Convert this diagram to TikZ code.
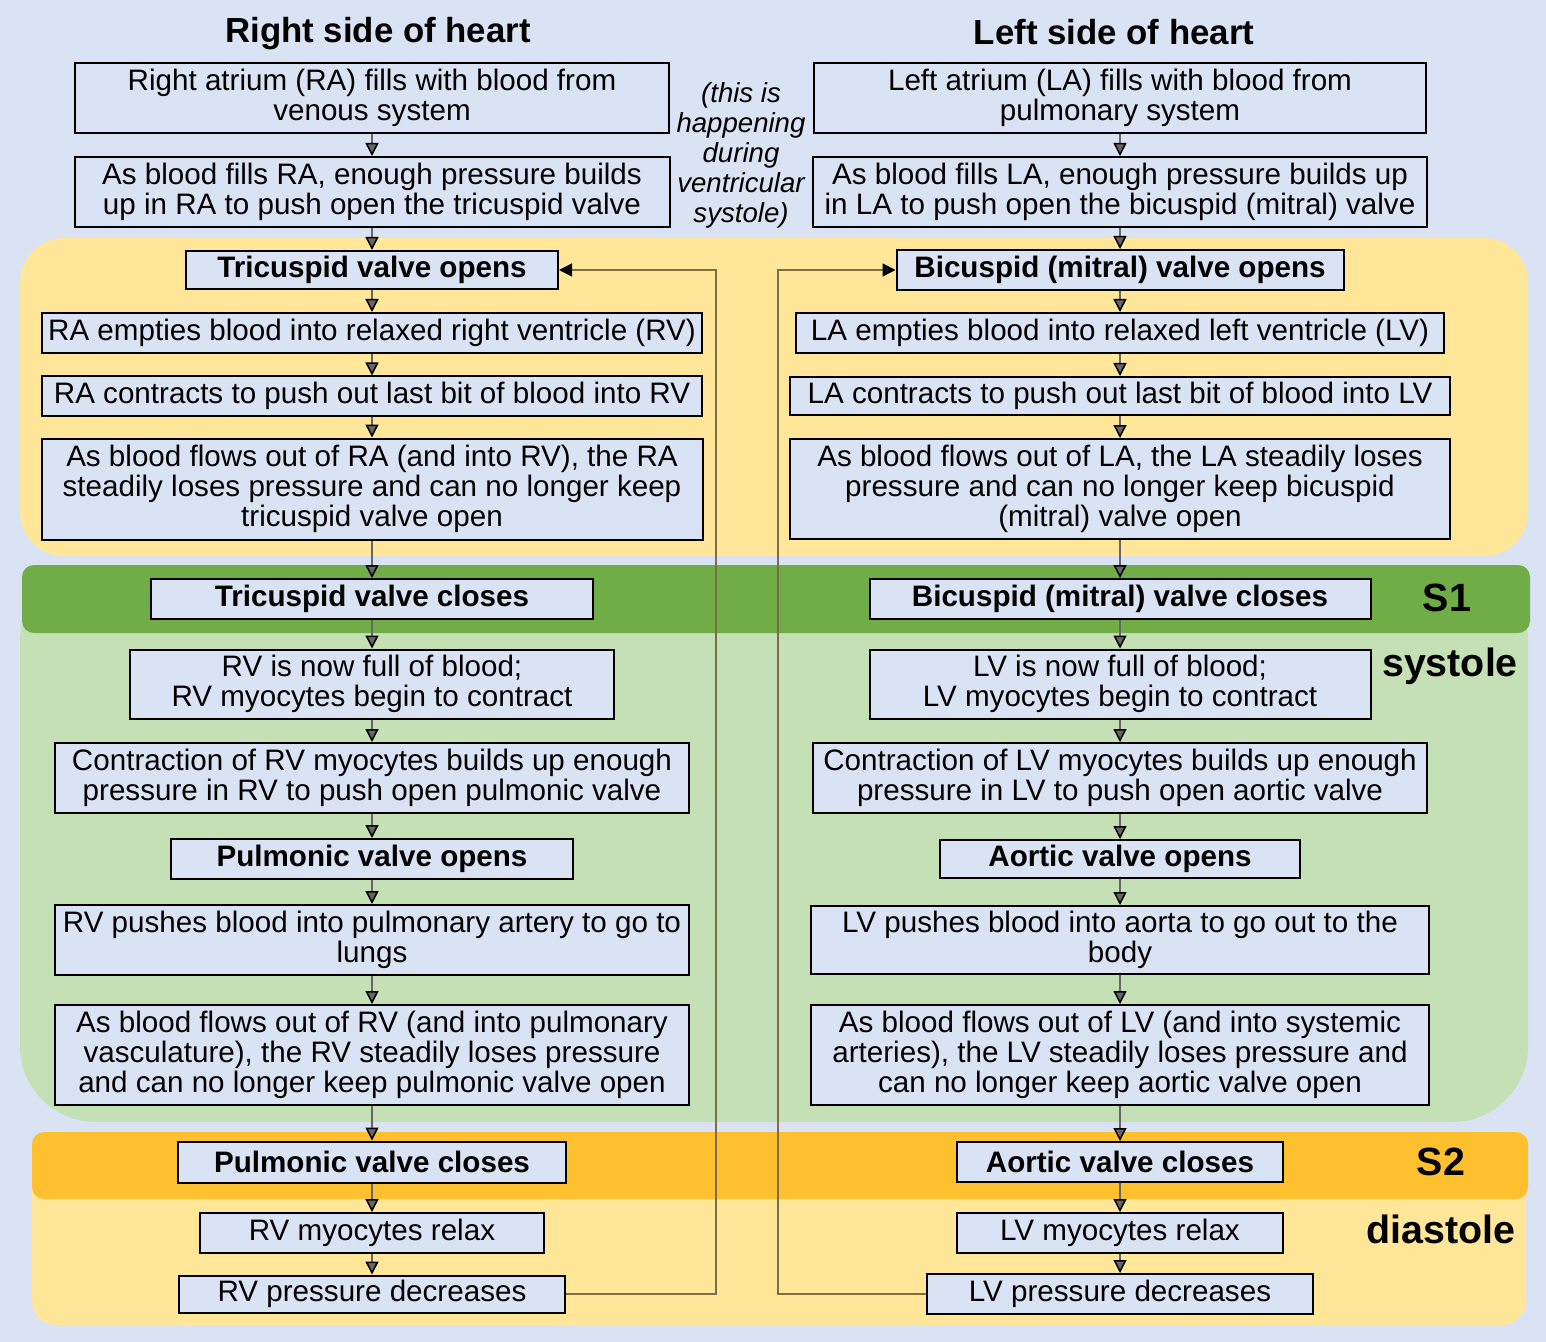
\documentclass[tikz,border=0pt]{standalone}
\usepackage{fontspec}
\setmainfont{Liberation Sans}
\usetikzlibrary{positioning,arrows.meta}

\definecolor{bgblue}{HTML}{DAE3F3}
\definecolor{diayellow}{HTML}{FFE699}
\definecolor{sysgreen}{HTML}{C5E0B4}
\definecolor{sonegreen}{HTML}{70AD47}
\definecolor{stwoorange}{HTML}{FFC02F}
\definecolor{backcol}{HTML}{7D6C48}

\newcommand{\bodyfont}{\fontsize{14.8}{15}\selectfont}

\tikzset{
  box/.style 2 args={draw, line width=1pt, fill=bgblue, inner sep=1pt, align=center,
    font=\bodyfont, minimum width=#1, minimum height=#2},
  sidetitle/.style={font=\fontsize{17.4}{18}\selectfont\bfseries},
  sidenote/.style={align=center, font=\fontsize{13.8}{15}\selectfont\itshape},
  phase/.style={font=\fontsize{19.7}{20}\selectfont\bfseries},
  flow/.style={color=black!60, line width=0.75pt, -{Triangle[width=6.5pt,length=6.5pt,color=black]}},
  backline/.style={draw=backcol, line width=0.75pt, -{Triangle[width=6.5pt,length=6.5pt,color=black]}}
}

\begin{document}
\begin{tikzpicture}[x=0.5pt,y=-0.5pt,on grid]
    % background and phase bands
    \fill[bgblue] (0,0) rectangle (1546,1342);
    \useasboundingbox (0,0) rectangle (1546,1342);
    \fill[diayellow, rounded corners=22pt] (20,238) rectangle (1528,556);
    \fill[sysgreen, rounded corners=38pt] (20,565) rectangle (1528,1122);
    \fill[sonegreen, rounded corners=6pt] (22,565) rectangle (1530,633);
    \fill[diayellow, rounded corners=12pt] (32,1132) rectangle (1526,1325);
    \fill[stwoorange, rounded corners=6pt] (32,1132) rectangle (1528,1199);

    \node[phase] (sone) at (1447,598) {S1};
    \node[phase] (systole) at (1450,666) {systole};
    \node[phase] (stwo) at (1441,1162) {S2};
    \node[phase] (diastole) at (1441,1229) {diastole};

    % right side of heart
    \node[box={297pt}{35pt}] (r1) at (372,98) {Right atrium (RA) fills with blood from\\venous system};
    \node[box={297.5pt}{35pt}] (r2) [below=47pt of r1] {As blood fills RA, enough pressure builds\\up in RA to push open the tricuspid valve};
    \node[box={186pt}{19pt}] (r3) [below=39pt of r2] {\textbf{Tricuspid valve opens}};
    \node[box={330pt}{20pt}] (r4) [below=31.5pt of r3] {RA empties blood into relaxed right ventricle (RV)};
    \node[box={330pt}{19.5pt}] (r5) [below=31.5pt of r4] {RA contracts to push out last bit of blood into RV};
    \node[box={330.5pt}{50.5pt}] (r6) [below=46.5pt of r5] {As blood flows out of RA (and into RV), the RA\\steadily loses pressure and can no longer keep\\tricuspid valve open};
    \node[box={221pt}{20pt}] (r7) [below=55pt of r6] {\textbf{Tricuspid valve closes}};
    \node[box={242pt}{34.5pt}] (r8) [below=42.5pt of r7] {RV is now full of blood;\\RV myocytes begin to contract};
    \node[box={317pt}{35pt}] (r9) [below=47pt of r8] {Contraction of RV myocytes builds up enough\\pressure in RV to push open pulmonic valve};
    \node[box={201pt}{20pt}] (r10) [below=40.5pt of r9] {\textbf{Pulmonic valve opens}};
    \node[box={317pt}{35pt}] (r11) [below=40.5pt of r10] {RV pushes blood into pulmonary artery to go to\\lungs};
    \node[box={317pt}{50pt}] (r12) [below=57.5pt of r11] {As blood flows out of RV (and into pulmonary\\vasculature), the RV steadily loses pressure\\and can no longer keep pulmonic valve open};
    \node[box={194pt}{20.5pt}] (r13) [below=53.5pt of r12] {\textbf{Pulmonic valve closes}};
    \node[box={172pt}{20pt}] (r14) [below=35.5pt of r13] {RV myocytes relax};
    \node[box={193pt}{18.5pt}] (r15) [below=30.5pt of r14] {RV pressure decreases};

    % left side of heart
    \node[box={306pt}{35pt}] (l1) [right=374pt of r1] {Left atrium (LA) fills with blood from\\pulmonary system};
    \node[box={307pt}{35pt}] (l2) [right=374pt of r2] {As blood fills LA, enough pressure builds up\\in LA to push open the bicuspid (mitral) valve};
    \node[box={223.5pt}{20pt}] (l3) [right=374pt of r3] {\textbf{Bicuspid (mitral) valve opens}};
    \node[box={324pt}{20pt}] (l4) [right=374pt of r4] {LA empties blood into relaxed left ventricle (LV)};
    \node[box={330pt}{19pt}] (l5) [right=374pt of r5] {LA contracts to push out last bit of blood into LV};
    \node[box={330pt}{50pt}] (l6) [right=374pt of r6] {As blood flows out of LA, the LA steadily loses\\pressure and can no longer keep bicuspid\\(mitral) valve open};
    \node[box={250.5pt}{20pt}] (l7) [right=374pt of r7] {\textbf{Bicuspid (mitral) valve closes}};
    \node[box={250.5pt}{34.5pt}] (l8) [right=374pt of r8] {LV is now full of blood;\\LV myocytes begin to contract};
    \node[box={307pt}{35pt}] (l9) [right=374pt of r9] {Contraction of LV myocytes builds up enough\\pressure in LV to push open aortic valve};
    \node[box={180pt}{19pt}] (l10) [right=374pt of r10] {\textbf{Aortic valve opens}};
    \node[box={309pt}{34pt}] (l11) [right=374pt of r11] {LV pushes blood into aorta to go out to the\\body};
    \node[box={309pt}{50pt}] (l12) [right=374pt of r12] {As blood flows out of LV (and into systemic\\arteries), the LV steadily loses pressure and\\can no longer keep aortic valve open};
    \node[box={163pt}{20pt}] (l13) [right=374pt of r13] {\textbf{Aortic valve closes}};
    \node[box={163pt}{20pt}] (l14) [right=374pt of r14] {LV myocytes relax};
    \node[box={193pt}{20pt}] (l15) [right=374pt of r15] {LV pressure decreases};

    \node[sidetitle] (rtitle) [above=32pt of r1, xshift=3pt] {Right side of heart};
    \node[sidetitle] (ltitle) [above=33pt of l1, xshift=-3pt] {Left side of heart};
    \node[sidenote] (note) at (741,155) {(this is\\happening\\during\\ventricular\\systole)};

    \path[flow]
    (r1) edge (r2)   (r2) edge (r3)   (r3) edge (r4)   (r4) edge (r5)
    (r5) edge (r6)   (r6) edge (r7)   (r7) edge (r8)   (r8) edge (r9)
    (r9) edge (r10)  (r10) edge (r11) (r11) edge (r12) (r12) edge (r13)
    (r13) edge (r14) (r14) edge (r15);
    \path[flow]
    (l1) edge (l2)   (l2) edge (l3)   (l3) edge (l4)   (l4) edge (l5)
    (l5) edge (l6)   (l6) edge (l7)   (l7) edge (l8)   (l8) edge (l9)
    (l9) edge (l10)  (l10) edge (l11) (l11) edge (l12) (l12) edge (l13)
    (l13) edge (l14) (l14) edge (l15);

    % pressure drop reopens the atrioventricular valves
    \coordinate (rbus) at (716,0);
    \coordinate (lbus) at (778,0);
    \draw[backline] (r15.east) -- (r15.east -| rbus) |- (r3.east);
    \draw[backline] (l15.west) -- (l15.west -| lbus) |- (l3.west);
\end{tikzpicture}
\end{document}
